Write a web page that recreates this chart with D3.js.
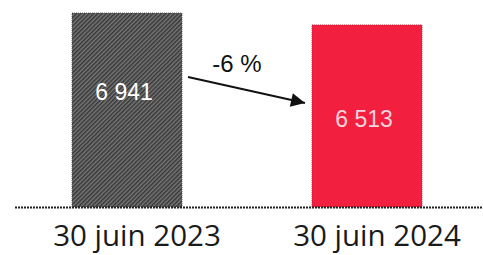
<!DOCTYPE html>
<html><head><meta charset="utf-8">
<script src="https://cdn.jsdelivr.net/npm/d3@7"></script>
<style>html,body{margin:0;padding:0;background:#fff;overflow:hidden}</style>
</head><body>
<svg id="c" width="483" height="255"></svg>
<script>
const categories = ["30 juin 2023", "30 juin 2024"];
const values = [6941, 6513];
const valueLabels = ["6 941", "6 513"];
const changeLabel = "-6 %";

const svg = d3.select("#c");
const defs = svg.append("defs");
const pat = defs.append("pattern").attr("id","hatch").attr("patternUnits","userSpaceOnUse")
  .attr("width",3).attr("height",3).attr("patternTransform","rotate(45)");
pat.append("rect").attr("width",3).attr("height",3).attr("fill","#777");
pat.append("rect").attr("width",1.5).attr("height",3).attr("fill","#363636");

defs.append("marker").attr("id","ah").attr("viewBox","0 0 10 10").attr("refX",10).attr("refY",5)
  .attr("markerWidth",8.5).attr("markerHeight",7).attr("markerUnits","strokeWidth").attr("orient","auto")
  .append("path").attr("d","M0,0 L10,5 L0,10 Z").attr("fill","#111");

const x = d3.scaleBand().domain(categories).range([72, 422]).paddingInner(130/240).paddingOuter(0);
const y = d3.scaleLinear().domain([0, 6941]).range([207, 13]);
const fills = ["url(#hatch)", "#f2203e"];
const strokes = ["#444", "#c01830"];
const labelColors = ["#ffffff", "#f6d4dc"];

svg.selectAll("rect.bar").data(values).join("rect").attr("class","bar")
  .attr("x",(d,i)=>x(categories[i])).attr("width",x.bandwidth())
  .attr("y",d=>y(d)).attr("height",d=>y(0)-y(d))
  .attr("fill",(d,i)=>fills[i]).attr("stroke",(d,i)=>strokes[i]).attr("stroke-width",0.8).attr("stroke-dasharray","1,1");

const labelY = [100, 127];
svg.selectAll("text.val").data(values).join("text").attr("class","val")
  .attr("x",(d,i)=>x(categories[i])+x.bandwidth()/2-3).attr("y",(d,i)=>labelY[i])
  .attr("text-anchor","middle").attr("font-family","Liberation Sans, Arial, sans-serif")
  .attr("font-size",23).attr("fill",(d,i)=>labelColors[i]).text((d,i)=>valueLabels[i]);

// baseline
svg.append("line").attr("x1",15).attr("x2",483).attr("y1",y(0)+0.5).attr("y2",y(0)+0.5)
  .attr("stroke","#222").attr("stroke-width",2).attr("stroke-dasharray","2,1");

// category labels
svg.selectAll("text.cat").data(categories).join("text").attr("class","cat")
  .attr("x",d=>x(d)+x.bandwidth()/2+10).attr("y",246)
  .attr("text-anchor","middle").attr("font-family","Open Sans, sans-serif")
  .attr("font-size",29.5).attr("fill","#1a1a1a").text(d=>d);

// arrow & change label
svg.append("line").attr("x1",188).attr("y1",77).attr("x2",305).attr("y2",103)
  .attr("stroke","#111").attr("stroke-width",2).attr("marker-end","url(#ah)");
svg.append("text").attr("x",237).attr("y",72).attr("text-anchor","middle")
  .attr("font-family","Liberation Sans, Arial, sans-serif").attr("font-size",24).attr("fill","#111")
  .text(changeLabel);
</script>
</body></html>
